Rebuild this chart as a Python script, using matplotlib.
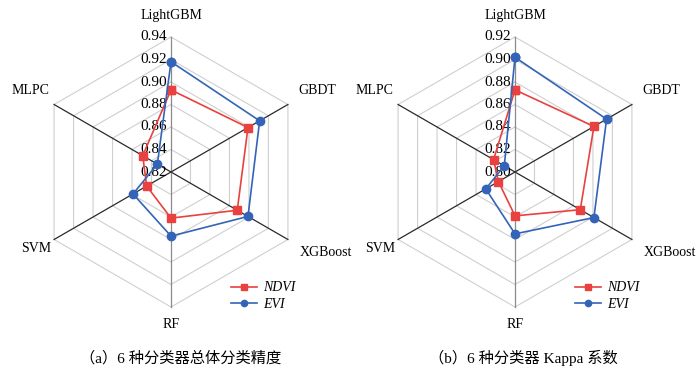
import numpy as np
import matplotlib
matplotlib.use("Agg")
import matplotlib.pyplot as plt

plt.rcParams['font.family'] = ['Liberation Serif', 'Noto Sans CJK SC']

# classifiers, clockwise from the top
categories = ["LightGBM", "GBDT", "XGBoost", "RF", "SVM", "MLPC"]

# (a) overall accuracy
oa_ndvi = [0.893, 0.899, 0.888, 0.861, 0.845, 0.849]
oa_evi = [0.918, 0.911, 0.899, 0.877, 0.859, 0.834]
oa_ticks = [0.82, 0.84, 0.86, 0.88, 0.90, 0.92, 0.94]

# (b) kappa
kp_ndvi = [0.873, 0.881, 0.867, 0.839, 0.817, 0.822]
kp_evi = [0.902, 0.894, 0.881, 0.855, 0.830, 0.811]
kp_ticks = [0.80, 0.82, 0.84, 0.86, 0.88, 0.90, 0.92]

captions = ["（a）6 种分类器总体分类精度", "（b）6 种分类器 Kappa 系数"]

RED = "#e8413f"
BLUE = "#3464b8"

n = len(categories)
ang = np.pi / 2 - np.arange(n) * 2 * np.pi / n


def to_xy(vals, vmin, vmax):
    r = (np.asarray(vals) - vmin) / (vmax - vmin)
    r = np.append(r, r[0])
    a = np.append(ang, ang[0])
    return r * np.cos(a), r * np.sin(a)


def radar(ax, ndvi, evi, ticks):
    vmin, vmax = ticks[0], ticks[-1]
    a = np.append(ang, ang[0])
    for k in range(1, len(ticks)):
        rr = k / (len(ticks) - 1)
        ax.plot(rr * np.cos(a), rr * np.sin(a), color="#cfcfcf", lw=0.8, zorder=1)
    for i in range(n):
        c = "#8a8a8a" if i in (0, 3) else "#2a2a2a"
        ax.plot([0, np.cos(ang[i])], [0, np.sin(ang[i])], color=c, lw=0.9, zorder=2)
    for k, t in enumerate(ticks):
        ax.text(-0.03, k / (len(ticks) - 1), f"{t:.2f}", ha="right", va="center",
                fontsize=11, zorder=3)
    x, y = to_xy(ndvi, vmin, vmax)
    ax.plot(x, y, color=RED, marker="s", ms=5.5, lw=1.2, label="NDVI", zorder=4)
    x, y = to_xy(evi, vmin, vmax)
    ax.plot(x, y, color=BLUE, marker="o", ms=6, lw=1.2, label="EVI", zorder=5)

    ax.text(0, 1.16, categories[0], ha="center", va="center", fontsize=10)
    ax.text(0.94, 0.6, categories[1], ha="left", va="center", fontsize=10)
    ax.text(0.95, -0.6, categories[2], ha="left", va="center", fontsize=10)
    ax.text(0, -1.13, categories[3], ha="center", va="center", fontsize=10)
    ax.text(-0.89, -0.57, categories[4], ha="right", va="center", fontsize=10)
    ax.text(-0.9, 0.6, categories[5], ha="right", va="center", fontsize=10)

    ax.legend(loc="upper left", bbox_to_anchor=(0.64, 0.215), frameon=False,
              handlelength=1.9, labelspacing=0.25, markerscale=0.75,
              handletextpad=0.4, prop={"style": "italic", "size": 10})
    L = 340 / 2 / 135
    ax.set_xlim(-L, L)
    ax.set_ylim(-L, L)
    ax.set_aspect("equal")
    ax.axis("off")


fig = plt.figure(figsize=(7, 3.77), dpi=100)
W, H = 700, 377
ax1 = fig.add_axes([1 / W, 35 / H, 340 / W, 340 / H])
ax2 = fig.add_axes([345 / W, 35 / H, 340 / W, 340 / H])
radar(ax1, oa_ndvi, oa_evi, oa_ticks)
radar(ax2, kp_ndvi, kp_evi, kp_ticks)

fig.text(181 / W, 1 - 358 / H, captions[0], ha="center", va="center", fontsize=11)
fig.text(523 / W, 1 - 358 / H, captions[1], ha="center", va="center", fontsize=11)

fig.savefig("out.png", dpi=100)
